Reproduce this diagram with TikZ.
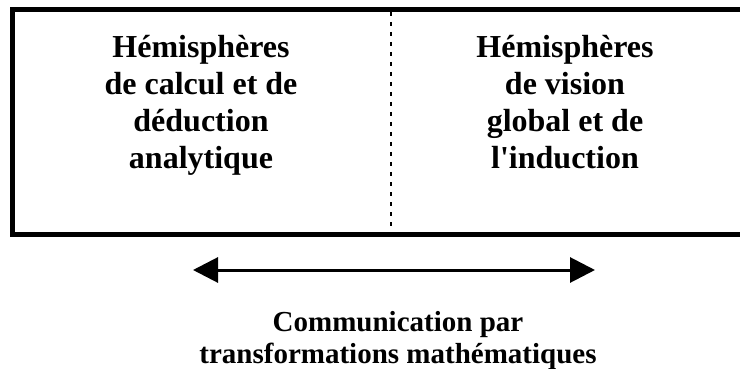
\documentclass[tikz,border=0pt]{standalone}
\usepackage{fontspec}
\setmainfont{Liberation Serif}
\usetikzlibrary{arrows.meta, positioning}

\begin{document}
\begin{tikzpicture}[x=1pt,y=-1pt,
    cell/.style={font=\fontsize{32}{37}\selectfont\bfseries, align=center, inner sep=0pt},
    notetext/.style={font=\fontsize{29}{32}\selectfont\bfseries, align=center, inner sep=0pt},
    border/.style={line width=5pt},
    divider/.style={line width=1.5pt, dash pattern=on 4pt off 6pt},
    dblarrow/.style={line width=3pt, {Triangle[length=25pt,width=25pt]}-{Triangle[length=25pt,width=25pt]}}]
        \useasboundingbox (0,0) rectangle (740,369);

        % cadre ouvert a droite
        \draw[border] (740,9.5) -- (12.5,9.5) -- (12.5,234.5) -- (740,234.5);

        \coordinate (haut) at (391,12);
        \coordinate (bas) at (391,232);
        \draw[divider] (haut) -- (bas);

        \node[cell] (gauche) at (201,105) {H\'emisph\`eres\\de calcul et de\\d\'eduction\\analytique};
        \coordinate (colD) at (565,0);
        \node[cell, anchor=north] (droite) at (colD |- gauche.north) {H\'emisph\`eres\\de vision\\global et de\\l\textquotesingle induction};

        \coordinate (flecheG) at (193,270);
        \coordinate (flecheD) at (595,270);
        \draw[dblarrow] (flecheG) -- (flecheD);

        \node[notetext] (comm) at (398,340.5) {Communication par\\transformations math\'ematiques};
\end{tikzpicture}
\end{document}
